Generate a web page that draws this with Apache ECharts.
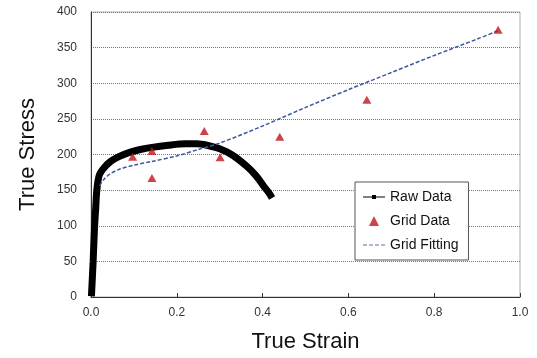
<!DOCTYPE html>
<html>
<head>
<meta charset="utf-8">
<script src="https://cdn.jsdelivr.net/npm/echarts@6/dist/echarts.min.js"></script>
<style>
  html, body { margin: 0; padding: 0; background: #fff; }
  #chart { width: 537px; height: 358px; }
</style>
</head>
<body>
<div id="chart"></div>
<script>
// raw tensile test curve (strain, stress)
const rawStrain = [0.001, 0.005, 0.008, 0.011, 0.013, 0.016, 0.02, 0.03, 0.045, 0.065, 0.09, 0.115, 0.142, 0.18, 0.22, 0.247, 0.27, 0.3, 0.33, 0.364, 0.385, 0.402, 0.415, 0.422];
const rawStress = [1, 50, 95, 125, 146, 162, 172, 181, 190, 197, 203, 207, 210, 213, 215, 215, 213, 208, 199, 183, 170, 156, 146, 139];

// grid data points
const gridStrain = [0.097, 0.142, 0.142, 0.264, 0.301, 0.44, 0.643, 0.949];
const gridStress = [197, 205, 167, 233, 196, 225, 277, 375];

// fitted curve
const fitStrain = [0.02, 0.03, 0.045, 0.065, 0.1, 0.14, 0.2, 0.25, 0.3, 0.4, 0.5, 0.6, 0.7, 0.8, 0.9, 0.95];
const fitStress = [156, 165, 173, 179, 185, 190, 198, 207, 216, 240, 266, 291, 315, 339, 362, 374];

const zip = (xs, ys) => xs.map((x, i) => [x, ys[i]]);

const chart = echarts.init(document.getElementById('chart'));
const font = 'Liberation Sans, Arial, sans-serif';

chart.setOption({
  animation: false,
  textStyle: { fontFamily: font },
  grid: {
    left: 91, right: 17, top: 12, bottom: 61,
    show: true, borderColor: '#b0b0b0', borderWidth: 1
  },
  legend: {
    left: 355, top: 182, width: 125,
    orient: 'vertical',
    itemGap: 10, itemWidth: 22, itemHeight: 10,
    padding: [8, 10, 8, 8],
    backgroundColor: '#fff',
    borderColor: '#555', borderWidth: 1,
    textStyle: { fontSize: 14, color: '#111', fontFamily: font },
    data: [
      { name: 'Raw Data', icon: 'path://M0,4.5 L9,4.5 L9,3 L13,3 L13,4.5 L22,4.5 L22,5.5 L13,5.5 L13,7 L9,7 L9,5.5 L0,5.5 Z',
        itemStyle: { color: '#000' } },
      { name: 'Grid Data', icon: 'path://M8,7 L14,7 L11,1 Z', itemStyle: { color: '#c0141c' } },
      { name: 'Grid Fitting', icon: 'path://M0,4.5 L4,4.5 L4,5.5 L0,5.5 Z M6,4.5 L10,4.5 L10,5.5 L6,5.5 Z M12,4.5 L16,4.5 L16,5.5 L12,5.5 Z M18,4.5 L22,4.5 L22,5.5 L18,5.5 Z',
        itemStyle: { color: '#5a6fa8' } }
    ]
  },
  xAxis: {
    type: 'value', min: 0, max: 1, interval: 0.2,
    name: 'True Strain', nameLocation: 'middle', nameGap: 34,
    nameTextStyle: { fontSize: 22, color: '#111', fontFamily: font },
    axisLine: { lineStyle: { color: '#333', width: 1 } },
    axisTick: { inside: true, length: 4, lineStyle: { color: '#333' } },
    axisLabel: { fontSize: 12, color: '#333', margin: 10,
      formatter: v => v.toFixed(1) },
    splitLine: { show: false }
  },
  yAxis: {
    type: 'value', min: 0, max: 400, interval: 50,
    name: 'True Stress', nameLocation: 'middle', nameGap: 52,
    nameTextStyle: { fontSize: 22, color: '#111', fontFamily: font },
    axisLine: { show: true, lineStyle: { color: '#333', width: 1 } },
    axisTick: { show: false },
    axisLabel: { fontSize: 12, color: '#333', margin: 14 },
    splitLine: { show: true, lineStyle: { type: 'dotted', color: '#777', width: 1 } }
  },
  series: [
    {
      name: 'Raw Data', type: 'line', data: zip(rawStrain, rawStress),
      smooth: 0.3, showSymbol: false, symbol: 'rect',
      lineStyle: { color: '#000', width: 7 },
      itemStyle: { color: '#000' }, z: 3
    },
    {
      name: 'Grid Fitting', type: 'line', data: zip(fitStrain, fitStress),
      smooth: 0.3, showSymbol: false,
      lineStyle: { color: '#3d5a9e', width: 1.5, type: [4, 2] },
      itemStyle: { color: '#3d5a9e' }, z: 4
    },
    {
      name: 'Grid Data', type: 'scatter', data: zip(gridStrain, gridStress),
      symbol: 'triangle', symbolSize: [9, 8],
      itemStyle: { color: '#c0141c' }, z: 5
    }
  ]
});
</script>
</body>
</html>
